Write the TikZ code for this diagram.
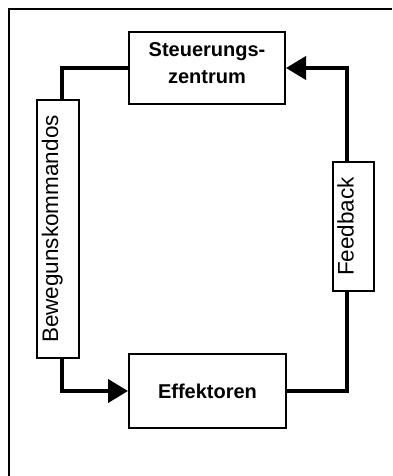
\documentclass[tikz,border=0pt]{standalone}
\usepackage{fontspec}
\setmainfont{Liberation Sans}
\usetikzlibrary{arrows.meta}
\begin{document}
\begin{tikzpicture}[x=1pt,y=-1pt,
  box/.style={draw,line width=2pt,inner sep=0pt},
  hbox/.style={box,font=\bfseries\fontsize{20}{27}\selectfont,align=center},
  rbox/.style={box,rotate=90,font=\fontsize{22.5}{27}\selectfont,text height=0pt,text depth=0pt},
  conn/.style={line width=4pt,line join=miter},
  tip/.style={-{Triangle[length=20pt,width=23pt]}}]
\useasboundingbox (0,0) rectangle (392,476);
\draw[line width=2.5pt] (392,9) -- (9,9) -- (9,476);
\node[hbox,minimum width=156pt,minimum height=72pt] (sz) at (207,68)
  {\raisebox{3.5pt}[\height][\depth]{\begin{tabular}{@{}c@{}}Steuerungs-\\zentrum\end{tabular}}};
\node[hbox,minimum width=157pt,minimum height=74pt] (ef) at (207.5,391) {Effektoren};
\node[rbox,minimum width=258pt,minimum height=42pt] (bk) at (58,229) {Bewegunskommandos};
\node[rbox,minimum width=129pt,minimum height=41pt] (fb) at (353.5,226.5) {Feedback};
\draw[conn] (sz.west) -| ([xshift=4pt]bk.east);
\draw[conn,tip] ([xshift=4pt]bk.west) |- (ef.west);
\draw[conn] (ef.east) -| ([xshift=-6.5pt]fb.west);
\draw[conn,tip] ([xshift=-6.5pt]fb.east) |- (sz.east);
\end{tikzpicture}
\end{document}
